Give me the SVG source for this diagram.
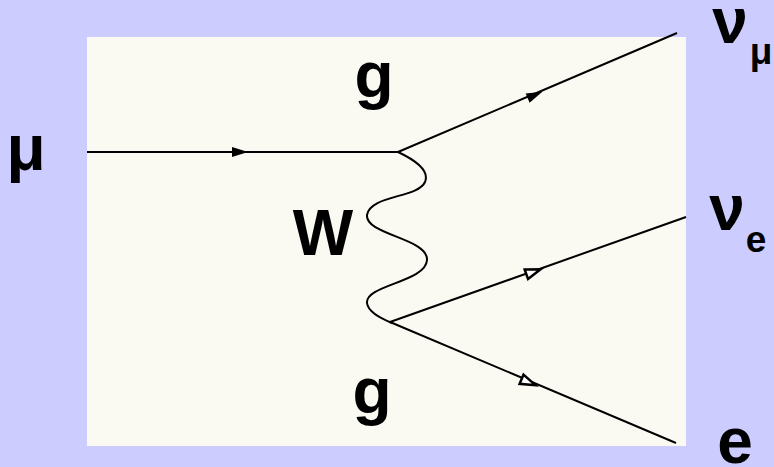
<svg xmlns="http://www.w3.org/2000/svg" width="774" height="467" viewBox="0 0 774 467">
<style>
.t{font-family:"Liberation Sans",Arial,sans-serif;font-weight:bold;fill:#000;text-anchor:middle}
.big{font-size:64px}
.sub{font-size:37px}
.ln{stroke:#000;stroke-width:2;fill:none}
</style>
<defs>
<path id="af" d="M-8,-5 L8,0 L-8,5 Z" fill="#000"/>
<path id="ah" d="M-7,-5 L8,0 L-7,5 Z" fill="#fff" stroke="#000" stroke-width="2.5"/>
</defs>
<rect width="774" height="467" fill="#CCCCFF"/>
<rect x="87" y="37" width="599" height="409" fill="#FAFAF3"/>
<g id="connectors">
<line class="ln" x1="87" y1="152" x2="398" y2="152" stroke-width="3"/>
<use href="#af" transform="translate(240,152)"/>
<line class="ln" x1="398" y1="152" x2="677" y2="33"/>
<use href="#af" transform="translate(535,95) rotate(-23)"/>
<path class="ln" d="M398,152 C415,160 430,170 425,182 C418,198 370,195 367,215 C365,235 428,238 427,260 C426,282 365,285 367,303 C368,312 380,318 392,323"/>
<line class="ln" x1="390" y1="322" x2="686" y2="217"/>
<use href="#ah" transform="translate(533,272) rotate(-19.5)"/>
<line class="ln" x1="390" y1="322" x2="676" y2="443"/>
<use href="#ah" transform="translate(528,382) rotate(23)"/>
</g>
<g id="mu"><text class="t big" x="26" y="170">μ</text></g>
<g id="g-top"><text class="t big" x="374" y="97">g</text></g>
<g id="W"><text class="t big" x="323" y="255">W</text></g>
<g id="g-bottom"><text class="t big" x="372" y="413">g</text></g>
<g id="nu-mu"><text class="t big" x="730" y="43">ν</text><text class="t sub" x="761" y="64">μ</text></g>
<g id="nu-e"><text class="t big" x="727" y="230">ν</text><text class="t sub" x="756" y="252">e</text></g>
<g id="e"><text class="t big" x="735" y="463">e</text></g>
</svg>
